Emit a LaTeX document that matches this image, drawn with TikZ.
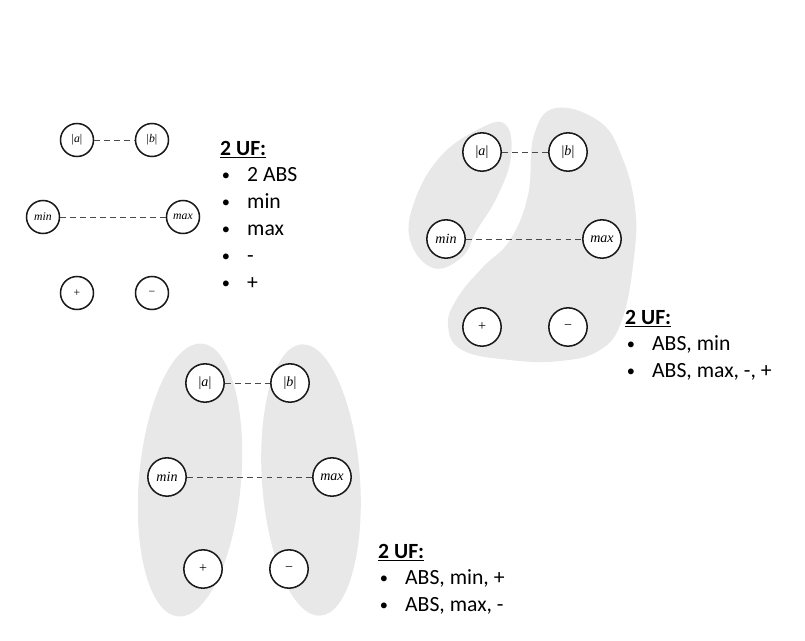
\documentclass[tikz,border=0pt]{standalone}
\usepackage{fontspec}
\setmainfont{Carlito}
\newfontfamily\opfont{Liberation Serif}
\usepackage{tikz}
\usetikzlibrary{positioning}
\definecolor{cBlob}{HTML}{E8E8E8}
\definecolor{cEdge}{HTML}{1A1A1A}
\definecolor{cDash}{HTML}{4A4A4A}

\newcommand{\ufhead}{\underline{\textbf{2 UF:}}}
\newcommand{\ufitem}[1]{\makebox[23pt][l]{\hspace{1.5pt}\raisebox{1.2pt}{\fontsize{14}{14}\selectfont\textbullet}}#1}

\begin{document}
\begin{tikzpicture}[x=0.03cm,y=-0.03cm,
    opsmall/.style={circle,draw=cEdge,line width=1.3pt,fill=white,
      minimum size=0.99cm,inner sep=0pt,font=\opfont\fontsize{10}{12}\selectfont},
    opbig/.style={opsmall,minimum size=1.15cm,font=\opfont\fontsize{12}{14}\selectfont},
    link/.style={draw=cDash,line width=0.8pt,dash pattern=on 5pt off 3.5pt},
    blob/.style={fill=cBlob},
    uflist/.style={anchor=base west,inner sep=0pt,font=\fontsize{18.5}{23}\selectfont}]
    \useasboundingbox (0,0) rectangle (805,641);

    % grey groups
    \fill[blob] plot[smooth cycle,tension=0.7] coordinates
      {(505,124) (511,157) (497,197) (477,230) (462,257) (433,268) (410,240)
       (415,200) (440,157) (477,130)};
    \fill[blob] plot[smooth cycle,tension=0.7] coordinates
      {(556,108) (600,122) (622,157) (635,207) (634,257) (622,320) (600,350)
       (560,361) (510,360) (462,350) (448,325) (458,297) (483,267) (510,240)
       (528,195) (534,135)};
    \fill[blob,rotate around={-5:(190,480)}] (190,480) ellipse [x radius=51,y radius=137];
    \fill[blob,rotate around={4:(311,480)}] (311,480) ellipse [x radius=49,y radius=136];

    % no grouping
    \node[opsmall] (a1) at (77,140) {|\textit{a}|};
    \node[opsmall] (b1) at (152,140) {|\textit{b}|};
    \node[opsmall] (min1) at (43,217) {\textit{min}};
    \node[opsmall] (max1) at (183,217) {\textit{max}};
    \node[opsmall] (plus1) at (77,293) {+};
    \node[opsmall] (minus1) at (152,293) {−};
    \draw[link] (a1) -- (b1);
    \draw[link] (min1) -- (max1);
    \node[uflist] (uf1) at (220,155)
      {\begin{tabular}[t]{@{}l@{}}
         \ufhead\\
         \ufitem{2 ABS}\\
         \ufitem{min}\\
         \ufitem{max}\\
         \ufitem{-}\\
         \ufitem{+}
       \end{tabular}};

    % kidney grouping
    \node[opbig] (a2) at (482,152) {|\textit{a}|};
    \node[opbig] (b2) at (568,152) {|\textit{b}|};
    \node[opbig] (min2) at (446,239) {\textit{min}};
    \node[opbig] (max2) at (602,239) {\textit{max}};
    \node[opbig] (plus2) at (482,327) {+};
    \node[opbig] (minus2) at (568,327) {−};
    \draw[link] (a2) -- (b2);
    \draw[link] (min2) -- (max2);
    \node[uflist] (uf2) at (625,324)
      {\begin{tabular}[t]{@{}l@{}}
         \ufhead\\
         \ufitem{ABS, min}\\
         \ufitem{ABS, max, -, +}
       \end{tabular}};

    % column grouping
    \node[opbig] (a3) at (205,383) {|\textit{a}|};
    \node[opbig] (b3) at (290,383) {|\textit{b}|};
    \node[opbig] (min3) at (167,477) {\textit{min}};
    \node[opbig] (max3) at (332,477) {\textit{max}};
    \node[opbig] (plus3) at (203,569) {+};
    \node[opbig] (minus3) at (289,569) {−};
    \draw[link] (a3) -- (b3);
    \draw[link] (min3) -- (max3);
    \node[uflist] (uf3) at (378,558)
      {\begin{tabular}[t]{@{}l@{}}
         \ufhead\\
         \ufitem{ABS, min, +}\\
         \ufitem{ABS, max, -}
       \end{tabular}};
  \end{tikzpicture}
\end{document}
